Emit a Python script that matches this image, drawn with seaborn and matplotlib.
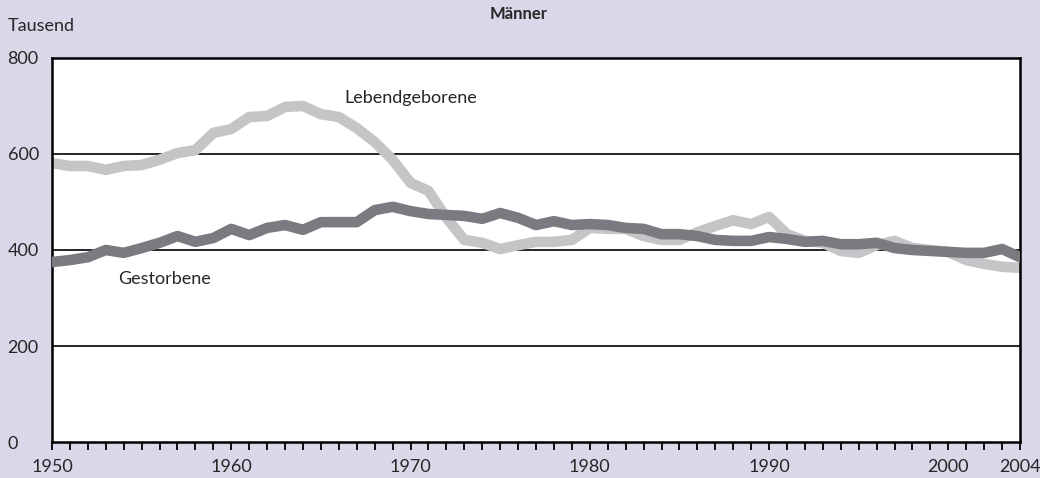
import numpy as np
import pandas as pd
import matplotlib
matplotlib.use("Agg")
import matplotlib.pyplot as plt
import seaborn as sns

jahre = list(range(1950, 2005))

# Tausend
lebendgeborene = [581, 575, 575, 567, 575, 577, 588, 602, 608, 644,
                  652, 677, 679, 698, 700, 683, 677, 654, 625, 588,
                  540, 523, 467, 421, 415, 402, 410, 417, 417, 421,
                  446, 444, 444, 429, 421, 421, 437, 450, 462, 454,
                  469, 433, 419, 415, 398, 394, 410, 419, 404, 400,
                  396, 379, 371, 365, 363]
gestorbene = [375, 379, 385, 400, 394, 404, 415, 429, 417, 425,
              444, 431, 446, 452, 442, 458, 458, 458, 483, 490,
              481, 475, 473, 471, 465, 477, 467, 452, 460, 452,
              454, 452, 446, 444, 433, 433, 429, 421, 419, 419,
              427, 423, 417, 419, 412, 412, 415, 404, 400, 398,
              396, 394, 394, 402, 385]

xticks = [1950, 1960, 1970, 1980, 1990, 2000, 2004]
yticks = [0, 200, 400, 600, 800]

df = pd.DataFrame({"Jahr": jahre, "Lebendgeborene": lebendgeborene, "Gestorbene": gestorbene})

sns.set_style("ticks")
plt.rcParams["font.family"] = ["Lato", "DejaVu Sans"]

bg = "#dbd6e8"
fig = plt.figure(figsize=(10.4, 4.78), dpi=100, facecolor=bg)
ax = fig.add_axes([0.05, 0.0753, 0.9308, 0.8034])
ax.set_facecolor("white")

for y in [200, 400, 600]:
    ax.axhline(y, color="black", lw=1.2, zorder=1)

sns.lineplot(data=df, x="Jahr", y="Gestorbene", color="#7a7a80", lw=7.6,
             solid_capstyle="round", ax=ax, zorder=3)
sns.lineplot(data=df, x="Jahr", y="Lebendgeborene", color="#c5c5c7", lw=7.6,
             solid_capstyle="round", ax=ax, zorder=2)

ax.set_xlim(1950, 2004)
ax.set_ylim(0, 800)
ax.set_xlabel("")
ax.set_ylabel("")

ax.set_xticks(xticks)
ax.set_xticklabels([str(x) for x in xticks], fontsize=13)
ax.set_xticks(jahre, minor=True)
ax.tick_params(axis="x", which="both", direction="out", length=6,
               width=1.3, color="#000000", bottom=True)
ax.tick_params(axis="x", which="major", pad=6)

ax.set_yticks(yticks)
ax.set_yticklabels([str(y) for y in yticks], fontsize=13, ha="left")
ax.tick_params(axis="y", left=False, length=0, pad=32)

for s in ax.spines.values():
    s.set_visible(True)
    s.set_color("black")
    s.set_linewidth(1.8)

ax.text(1966.3, 717, "Lebendgeborene", fontsize=13, va="center", ha="left")
ax.text(1953.7, 340, "Gestorbene", fontsize=13, va="center", ha="left")

fig.text(0.007, 0.946, "Tausend", fontsize=13, va="center", ha="left")
fig.text(0.499, 0.971, "Männer", fontsize=12, fontweight="bold", va="center", ha="center")

fig.savefig("out.png", dpi=100, facecolor=bg)
